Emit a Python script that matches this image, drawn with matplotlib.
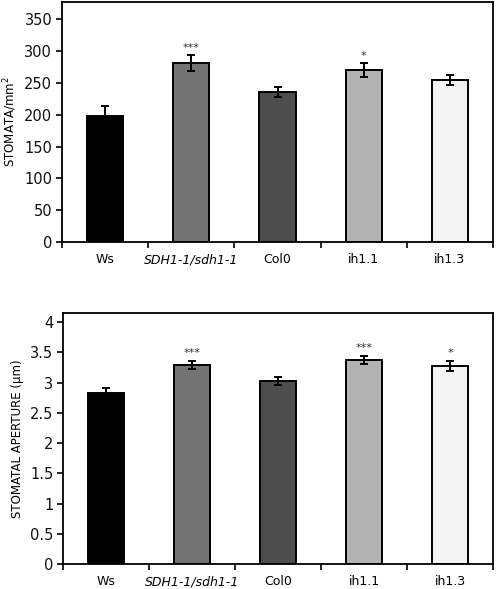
import matplotlib
matplotlib.use("Agg")
import matplotlib.pyplot as plt
import numpy as np

lines = ["Ws", "SDH1-1/sdh1-1", "Col0", "ih1.1", "ih1.3"]
colors = ["#000000", "#737373", "#4d4d4d", "#b3b3b3", "#f4f4f4"]

density = [198, 281, 236, 270, 254]
density_err = [15, 12, 8, 11, 8]
density_stars = ["", "***", "", "*", ""]

aperture = [2.83, 3.29, 3.03, 3.37, 3.27]
aperture_err = [0.08, 0.07, 0.07, 0.07, 0.08]
aperture_stars = ["", "***", "", "***", "*"]

plt.rcParams["font.family"] = ["DejaVu Sans"]

fig = plt.figure(figsize=(4.98, 5.89), dpi=100)
ax1 = fig.add_axes([0.1245, 0.589, 0.8655, 0.4076])
ax2 = fig.add_axes([0.1265, 0.0424, 0.8635, 0.4262])


def draw_panel(ax, values, errs, stars, ymax, yticks, ylabel, star_off):
    x = np.arange(len(values))
    ax.bar(x, values, width=0.42, color=colors, edgecolor="black", linewidth=1.4, zorder=2)
    ax.errorbar(x, values, yerr=errs, fmt="none", ecolor="black", elinewidth=1.4,
                capsize=3, capthick=1.4, zorder=3)
    for xi, v, e, s in zip(x, values, errs, stars):
        if s:
            ax.text(xi, v + e + star_off, s, ha="center", va="bottom", fontsize=8, color="#333333")
    ax.set_xlim(-0.5, len(values) - 0.5)
    ax.set_ylim(0, ymax)
    ax.set_yticks(yticks)
    ax.set_yticklabels([f"{t:g}" for t in yticks], fontsize=10.5, color="#111111")
    # tick marks sit between the categories, labels at the centres
    ax.set_xticks(np.arange(-0.5, len(values), 1.0))
    ax.set_xticklabels([])
    ax.set_xticks(x, minor=True)
    ax.set_xticklabels(lines, minor=True, fontsize=9)
    for lab in ax.get_xticklabels(minor=True):
        if lab.get_text() == "SDH1-1/sdh1-1":
            lab.set_style("italic")
    ax.tick_params(axis="x", which="minor", length=0, pad=8)
    ax.tick_params(axis="x", which="major", length=4, width=1.2, direction="out")
    ax.tick_params(axis="y", length=4, width=1.2, direction="out", pad=3)
    for sp in ax.spines.values():
        sp.set_linewidth(1.3)
    ax.set_ylabel(ylabel, fontsize=8.5, labelpad=4)


draw_panel(ax1, density, density_err, density_stars, 377,
           [0, 50, 100, 150, 200, 250, 300, 350], "STOMATA/mm$^2$", 4)
draw_panel(ax2, aperture, aperture_err, aperture_stars, 4.15,
           [0, 0.5, 1, 1.5, 2, 2.5, 3, 3.5, 4], "STOMATAL APERTURE (\u03bcm)", 0.05)

fig.savefig("out.png", dpi=100)
